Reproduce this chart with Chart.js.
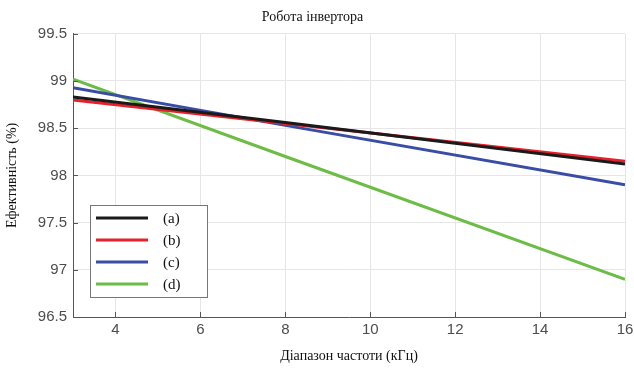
<!DOCTYPE html>
<html>
<head>
<meta charset="utf-8">
<script src="https://cdn.jsdelivr.net/npm/chart.js@4"></script>
<style>
  body { margin: 0; background: #fff; }
  canvas { display: block; }
</style>
</head>
<body>
<canvas id="effChart" width="634" height="377"></canvas>
<script>
// frequency points (kHz) and efficiency (%)
const freqs = [3, 8, 16];
const seriesA = [98.83, 98.56, 98.12];
const seriesB = [98.80, 98.55, 98.15];
const seriesC = [98.93, 98.53, 97.90];
const seriesD = [99.02, 98.20, 96.90];
const labels = ["(a)", "(b)", "(c)", "(d)"];
const colors = ["#1a1a1a", "#e8202a", "#3a4da6", "#6bbd45"];
const xTicks = [4, 6, 8, 10, 12, 14, 16];
const yTicks = [96.5, 97, 97.5, 98, 98.5, 99, 99.5];

const toPoints = (ys) => ys.map((y, i) => ({ x: freqs[i], y: y }));

// legend box drawn inside the plot, MATLAB style
const boxLegend = {
  id: "boxLegend",
  afterDatasetsDraw(chart) {
    const ctx = chart.ctx;
    const x0 = 90, y0 = 205, w = 117, h = 92;
    ctx.save();
    ctx.fillStyle = "#fff";
    ctx.fillRect(x0, y0, w, h);
    ctx.strokeStyle = "#777";
    ctx.lineWidth = 1;
    ctx.strokeRect(x0 + 0.5, y0 + 0.5, w, h);
    ctx.font = "15px 'Liberation Serif'";
    ctx.textBaseline = "middle";
    chart.data.datasets.forEach((ds, i) => {
      const yy = y0 + 13 + i * 22;
      ctx.strokeStyle = ds.borderColor;
      ctx.lineWidth = 3;
      ctx.beginPath();
      ctx.moveTo(x0 + 6, yy);
      ctx.lineTo(x0 + 58, yy);
      ctx.stroke();
      ctx.fillStyle = "#111";
      ctx.fillText(ds.label, x0 + 73, yy + 1);
    });
    ctx.restore();
  }
};

// short inward tick marks
const innerTicks = {
  id: "innerTicks",
  afterDraw(chart) {
    const ctx = chart.ctx;
    const a = chart.chartArea;
    const xs = chart.scales.x, ys = chart.scales.y;
    ctx.save();
    ctx.strokeStyle = "#555";
    ctx.lineWidth = 1;
    ctx.beginPath();
    xTicks.forEach(v => {
      const p = Math.round(xs.getPixelForValue(v)) + 0.5;
      ctx.moveTo(p, a.bottom);
      ctx.lineTo(p, a.bottom - 5);
    });
    yTicks.forEach(v => {
      const p = Math.round(ys.getPixelForValue(v)) + 0.5;
      ctx.moveTo(a.left, p);
      ctx.lineTo(a.left + 5, p);
    });
    ctx.stroke();
    ctx.restore();
  }
};

new Chart(document.getElementById("effChart"), {
  type: "line",
  data: {
    datasets: [seriesA, seriesB, seriesC, seriesD].map((s, i) => ({
      label: labels[i],
      data: toPoints(s),
      borderColor: colors[i],
      backgroundColor: colors[i],
      borderWidth: 3,
      pointRadius: 0,
      tension: 0
    }))
  },
  options: {
    responsive: false,
    devicePixelRatio: 1,
    animation: false,
    layout: { padding: { top: 1, right: 9, left: 0, bottom: 0 } },
    plugins: {
      legend: { display: false },
      tooltip: { enabled: false },
      title: {
        display: true,
        text: "Робота інвертора",
        color: "#111",
        font: { family: "'Liberation Serif'", size: 14, weight: "normal" },
        padding: { top: 8, bottom: 8 }
      }
    },
    scales: {
      x: {
        type: "linear",
        min: 3,
        max: 16,
        afterFit: (s) => { s.height = 60; s.paddingRight = 0; s.paddingLeft = 0; },
        ticks: {
          stepSize: 2,
          includeBounds: false,
          color: "#4d4d4d",
          padding: 4,
          font: { family: "'Liberation Sans'", size: 15 }
        },
        grid: { color: "#e6e6e6", drawTicks: false },
        border: { color: "#555", width: 1 },
        title: {
          display: true,
          text: "Діапазон частоти (кГц)",
          color: "#111",
          font: { family: "'Liberation Serif'", size: 14 },
          padding: { top: 8, bottom: 12 }
        }
      },
      y: {
        min: 96.5,
        max: 99.5,
        afterFit: (s) => { s.width = 73; },
        ticks: {
          stepSize: 0.5,
          color: "#4d4d4d",
          padding: 6,
          font: { family: "'Liberation Sans'", size: 15 },
          callback: (v) => (v % 1 === 0 ? v.toFixed(0) : v.toFixed(1))
        },
        grid: { color: "#e6e6e6", drawTicks: false },
        border: { color: "#555", width: 1 },
        title: {
          display: true,
          text: "Ефективність (%)",
          color: "#111",
          font: { family: "'Liberation Serif'", size: 14 },
          padding: { top: 4, bottom: 0 }
        }
      }
    }
  },
  plugins: [boxLegend, innerTicks]
});
</script>
</body>
</html>
